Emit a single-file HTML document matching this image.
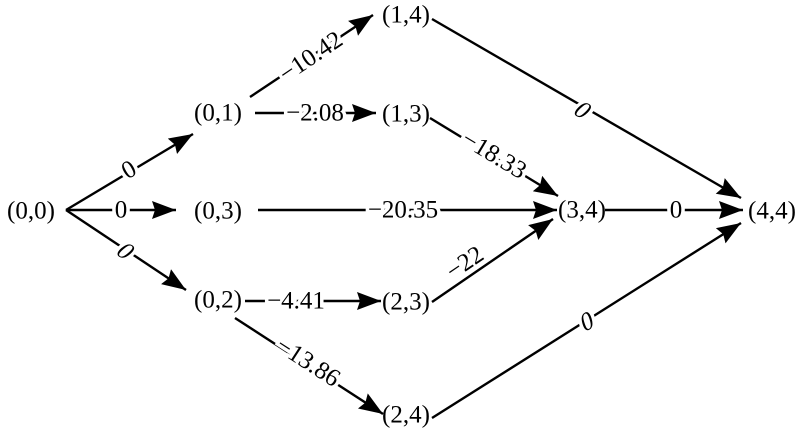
<!DOCTYPE html>
<html><head><meta charset="utf-8"><style>
html,body{margin:0;padding:0;background:#fff;}
svg{display:block;}
text{font-family:"Liberation Serif",serif;font-size:25px;fill:#000;}
.l{paint-order:stroke;stroke:#fff;stroke-width:7px;text-anchor:middle;dominant-baseline:central;}
.n{text-anchor:middle;dominant-baseline:central;}
</style></head><body>
<svg width="800" height="439" viewBox="0 0 800 439">
<defs>
<marker id="a" markerUnits="userSpaceOnUse" markerWidth="26" markerHeight="20" refX="24" refY="9" orient="auto">
<path d="M0,0 L24,9 L0,18 L3,9 Z" fill="#000"/>
</marker>
</defs>
<g stroke="#000" stroke-width="2.4" fill="none">
<line x1="66" y1="210" x2="193" y2="134" marker-end="url(#a)"/>
<line x1="66" y1="210" x2="176" y2="210" marker-end="url(#a)"/>
<line x1="66" y1="210" x2="186" y2="290" marker-end="url(#a)"/>
<line x1="250" y1="97" x2="373" y2="15" marker-end="url(#a)"/>
<line x1="255" y1="113" x2="376" y2="113" marker-end="url(#a)"/>
<line x1="430" y1="118" x2="558" y2="196" marker-end="url(#a)"/>
<line x1="258" y1="210" x2="557" y2="210" marker-end="url(#a)"/>
<line x1="432" y1="302" x2="553" y2="219" marker-end="url(#a)"/>
<line x1="245" y1="301" x2="381" y2="301" marker-end="url(#a)"/>
<line x1="235" y1="318" x2="383" y2="414" marker-end="url(#a)"/>
<line x1="605" y1="210" x2="743" y2="210" marker-end="url(#a)"/>
<line x1="432" y1="19" x2="741" y2="198" marker-end="url(#a)"/>
<line x1="432" y1="418" x2="741" y2="223" marker-end="url(#a)"/>
</g>
<text class="n" x="31" y="211">(0,0)</text>
<text class="n" x="218" y="113">(0,1)</text>
<text class="n" x="218" y="211">(0,3)</text>
<text class="n" x="218" y="300">(0,2)</text>
<text class="n" x="406" y="15">(1,4)</text>
<text class="n" x="406" y="114">(1,3)</text>
<text class="n" x="582" y="210">(3,4)</text>
<text class="n" x="406" y="302">(2,3)</text>
<text class="n" x="406" y="415">(2,4)</text>
<text class="n" x="772" y="211">(4,4)</text>

<text class="l" x="0" y="0" transform="translate(129,170) rotate(-30)">0</text>
<text class="l" x="121" y="210">0</text>
<text class="l" x="0" y="0" transform="translate(126,251) rotate(34) skewX(-15)">0</text>
<text class="l" x="0" y="0" transform="translate(311,57) rotate(-34)">−10.42</text>
<text class="l" x="315" y="113">−2.08</text>
<text class="l" x="0" y="0" transform="translate(494,155) rotate(31)">−18.33</text>
<text class="l" x="403" y="210">−20.35</text>
<text class="l" x="0" y="0" transform="translate(465,263) rotate(-34)">−22</text>
<text class="l" x="296" y="301">−4.41</text>
<text class="l" x="0" y="0" transform="translate(308,362) rotate(33)">−13.86</text>
<text class="l" x="676" y="210">0</text>
<text class="l" x="0" y="0" transform="translate(583,110) rotate(30) skewX(-15)">0</text>
<text class="l" x="0" y="0" transform="translate(587,321) rotate(-32) skewX(-15)">0</text>
</svg>
</body></html>
